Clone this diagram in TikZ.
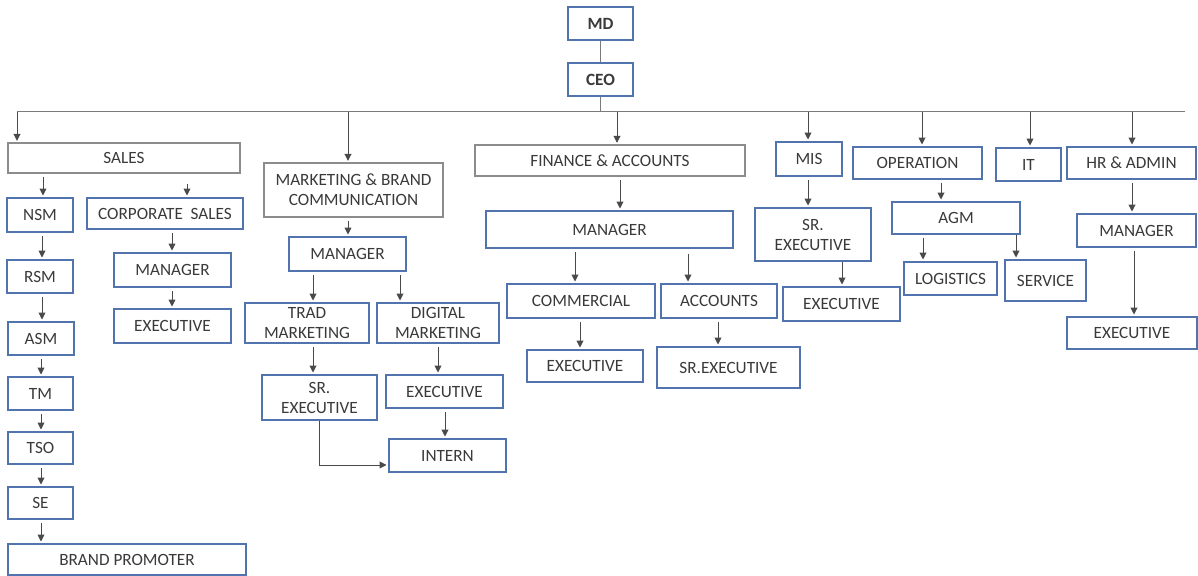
\documentclass[tikz,border=0pt]{standalone}
\usepackage{fontspec}
\setmainfont{Carlito}
\usepackage{tikz}
\usetikzlibrary{arrows.meta,positioning,calc}
\usepackage{xcolor}
\definecolor{fblue}{HTML}{5274AE}
\definecolor{fgrey}{HTML}{8C8C8C}
\definecolor{fline}{HTML}{4A4A4A}
\definecolor{fbus}{HTML}{7A7A7A}
\definecolor{ftext}{HTML}{3A3A3A}

\begin{document}
\begin{tikzpicture}[x=0.5pt, y=-0.5pt,
  font=\fontsize{8.6}{10}\selectfont, text=ftext,
  bbox/.style={draw=fblue, line width=0.9pt, fill=white, align=center,
               inner sep=1pt},
  gbox/.style={draw=fgrey, line width=0.6pt, fill=white, align=center,
               inner sep=1pt},
  wh/.style 2 args={minimum width=#1*0.5pt, minimum height=#2*0.5pt},
  arr/.style={draw=fline, line width=0.45pt,
              -{Triangle[length=3.4pt,width=3.4pt]},
              shorten <=1.5pt, shorten >=0.8pt},
  link/.style={draw=fbus, line width=0.5pt}]
\useasboundingbox (0,0) rectangle (1198,576);
% ---- top ----------------------------------------------------------
\node[bbox, wh={65}{33}, font=\fontsize{8.6}{10}\selectfont\bfseries] (md) at (600.5,23.5) {MD};
\node[bbox, wh={65}{33}, font=\fontsize{8.6}{10}\selectfont\bfseries] (ceo) at (600.5,79.5) {CEO};
\draw[link] (md) -- (ceo);
\coordinate (busL) at (17,112);
\coordinate (busR) at (1185,112);
\draw[link] (ceo) -- (ceo |- busL);
\draw[link] (busL) -- (busR);
% ---- departments --------------------------------------------------
\node[gbox, wh={232}{30}] (sales) at (124,158) {SALES};
\node[gbox, wh={179}{54}] (mktg) at (353.5,190) {MARKETING \& BRAND\\COMMUNICATION};
\node[gbox, wh={270}{31}] (fin) at (610,160.5) {FINANCE \& ACCOUNTS};
\node[bbox, wh={66}{34}] (mis) at (809,159) {MIS};
\node[bbox, wh={129}{32}] (oper) at (917.5,163) {OPERATION};
\node[bbox, wh={65}{33}] (it) at (1028.5,164.5) {IT};
\node[bbox, wh={129}{32}] (hr) at (1131.5,163) {HR \& ADMIN};
\draw[arr, shorten <=0pt] (busL) -- (busL |- sales.north);
\draw[arr, shorten <=0pt] (348,112) -- (mktg.north -| 348,0);
\draw[arr, shorten <=0pt] (617,112) -- (fin.north -| 617,0);
\draw[arr, shorten <=0pt] (808,112) -- (mis.north -| 808,0);
\draw[arr, shorten <=0pt] (922,112) -- (oper.north -| 922,0);
\draw[arr, shorten <=0pt] (1030,112) -- (it.north -| 1030,0);
\draw[arr, shorten <=0pt] (1132,112) -- (hr.north -| 1132,0);
% ---- sales --------------------------------------------------------
\node[bbox, wh={66}{34}] (nsm) at (40,215) {NSM};
\node[bbox, wh={156}{31}] (corp) at (165,213.5) {CORPORATE\ \ SALES};
\node[bbox, wh={66}{33}] (rsm) at (40,276.5) {RSM};
\node[bbox, wh={66}{33}] (asm) at (41,338.5) {ASM};
\node[bbox, wh={65}{33}] (tm) at (40.5,393.5) {TM};
\node[bbox, wh={65}{32}] (tso) at (40.5,448) {TSO};
\node[bbox, wh={65}{32}] (se) at (40.5,503) {SE};
\node[bbox, wh={238}{31}] (bp) at (127,559.5) {BRAND PROMOTER};
\node[bbox, wh={117}{34}] (cmgr) at (172.5,270) {MANAGER};
\node[bbox, wh={117}{34}] (cexe) at (172.5,326) {EXECUTIVE};
\draw[arr] (sales.south -| 43,0) -- (nsm.north -| 43,0);
\draw[arr, shorten <=5pt] (sales.south -| 187,0) -- (corp.north -| 187,0);
\draw[arr] (nsm.south -| 42,0) -- (rsm.north -| 42,0);
\draw[arr] (rsm.south -| 42,0) -- (asm.north -| 42,0);
\draw[arr] (asm.south -| 41,0) -- (tm.north -| 41,0);
\draw[arr] (tm.south -| 41,0) -- (tso.north -| 41,0);
\draw[arr] (tso.south -| 41,0) -- (se.north -| 41,0);
\draw[arr] (se.south -| 41,0) -- (bp.north -| 41,0);
\draw[arr] (corp.south -| 172,0) -- (cmgr.north -| 172,0);
\draw[arr] (cmgr.south -| 172,0) -- (cexe.north -| 172,0);
% ---- marketing ----------------------------------------------------
\node[bbox, wh={117}{34}] (mmgr) at (347.5,254) {MANAGER};
\node[bbox, wh={124}{40}] (trad) at (307,323) {TRAD\\MARKETING};
\node[bbox, wh={122}{40}] (digi) at (438,323) {DIGITAL\\MARKETING};
\node[bbox, wh={115}{45}] (msr) at (319.5,397.5) {SR.\\EXECUTIVE};
\node[bbox, wh={117}{33}] (mexe) at (444.5,391.5) {EXECUTIVE};
\node[bbox, wh={117}{33}] (intern) at (447.5,455.5) {INTERN};
\draw[arr] (mktg.south -| 348,0) -- (mmgr.north -| 348,0);
\draw[arr] (mmgr.south -| 313,0) -- (trad.north -| 313,0);
\draw[arr] (mmgr.south -| 400,0) -- (digi.north -| 400,0);
\draw[arr] (trad.south -| 313,0) -- (msr.north -| 313,0);
\draw[arr] (digi.south -| 438,0) -- (mexe.north -| 438,0);
\draw[arr] (mexe.south -| 445,0) -- (intern.north -| 445,0);
\draw[arr, shorten <=0pt] (msr.south -| 319,0) |- (intern.west |- 0,465);
% ---- finance ------------------------------------------------------
\node[bbox, wh={247}{37}] (fmgr) at (609.5,229.5) {MANAGER};
\node[bbox, wh={148}{34}] (comm) at (581,301) {COMMERCIAL};
\node[bbox, wh={116}{34}] (acc) at (719,301) {ACCOUNTS};
\node[bbox, wh={116}{32}] (fexe) at (585,366) {EXECUTIVE};
\node[bbox, wh={143}{41}] (fsr) at (728.5,367.5) {SR.EXECUTIVE};
\draw[arr] (fin.south -| 620,0) -- (fmgr.north -| 620,0);
\draw[arr] (fmgr.south -| 575,0) -- (comm.north -| 575,0);
\draw[arr, shorten <=2.5pt] (fmgr.south -| 688,0) -- (acc.north -| 688,0);
\draw[arr] (comm.south -| 580,0) -- (fexe.north -| 580,0);
\draw[arr] (acc.south -| 718,0) -- (fsr.north -| 718,0);
% ---- mis ----------------------------------------------------------
\node[bbox, wh={116}{53}] (missr) at (813,234.5) {SR.\\EXECUTIVE};
\node[bbox, wh={117}{34}] (misexe) at (841.5,304) {EXECUTIVE};
\draw[arr] (mis.south -| 808,0) -- (missr.north -| 808,0);
\draw[arr, shorten <=0pt] (missr.south -| 842,0) -- (misexe.north -| 842,0);
% ---- operation ----------------------------------------------------
\node[bbox, wh={128}{32}] (agm) at (956,218) {AGM};
\node[bbox, wh={93}{33}] (logi) at (950.5,278.5) {LOGISTICS};
\node[bbox, wh={81}{41}] (serv) at (1045.5,280.5) {SERVICE};
\draw[arr] (oper.south -| 941,0) -- (agm.north -| 941,0);
\draw[arr] (agm.south -| 923,0) -- (logi.north -| 923,0);
\draw[arr, shorten <=0pt] (agm.south -| 1016,0) -- (serv.north -| 1016,0);
% ---- hr -----------------------------------------------------------
\node[bbox, wh={119}{33}] (hmgr) at (1136.5,230.5) {MANAGER};
\node[bbox, wh={130}{32}] (hexe) at (1132,333) {EXECUTIVE};
\draw[arr] (hr.south -| 1132,0) -- (hmgr.north -| 1132,0);
\draw[arr] (hmgr.south -| 1134,0) -- (hexe.north -| 1134,0);
\end{tikzpicture}
\end{document}
